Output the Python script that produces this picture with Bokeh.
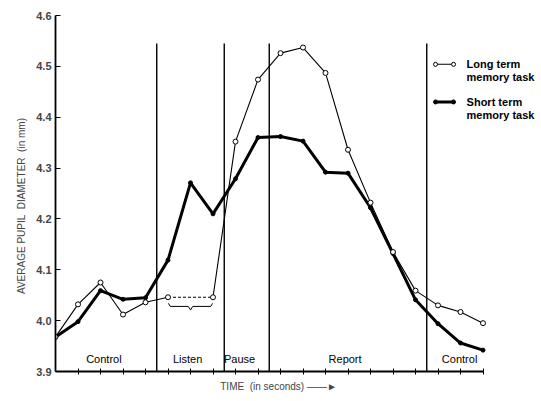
import math
from bokeh.plotting import figure
from bokeh.models import FixedTicker, Range1d, NumeralTickFormatter
from bokeh.core.properties import value
from bokeh.embed import file_html
from bokeh.resources import INLINE

# ---- data ----
time_steps = list(range(20))
long_term = [3.968, 4.032, 4.075, 4.012, 4.036, 4.046, float("nan"), 4.046, 4.352, 4.474,
             4.526, 4.537, 4.487, 4.336, 4.232, 4.135, 4.059, 4.030, 4.017, 3.995]
short_term = [3.968, 3.998, 4.059, 4.042, 4.045, 4.119, 4.271, 4.210, 4.279, 4.360,
              4.362, 4.353, 4.292, 4.290, 4.222, 4.132, 4.041, 3.994, 3.956, 3.942]
phase_bounds = [4.5, 7.5, 9.5, 16.5]
phase_names = ["Control", "Listen", "Pause", "Report", "Control"]
phase_label_x = [2.15, 5.87, 8.18, 12.87, 17.96]
y_ticks = [3.9, 4.0, 4.1, 4.2, 4.3, 4.4, 4.5, 4.6]
legend_names = ["Long term\nmemory task", "Short term\nmemory task"]

FONT = "Liberation Sans"
NB = "\u00a0"

p = figure(frame_width=485, frame_height=356, output_backend="svg",
           toolbar_location=None, min_border_left=55, min_border_right=0,
           min_border_top=15, min_border_bottom=30,
           x_range=Range1d(0, 485 / 22.5), y_range=Range1d(3.9, 4.6))
p.outline_line_color = None
p.grid.grid_line_color = None
p.background_fill_color = "white"

# axes
p.xaxis.bounds = (0, 19)
p.xaxis.ticker = FixedTicker(ticks=list(range(1, 20)))
p.xaxis.major_label_overrides = {i: "" for i in range(1, 20)}
p.xaxis.major_tick_in = 3
p.xaxis.major_tick_out = 3
p.xaxis.minor_tick_line_color = None
p.xaxis.axis_line_width = 1.8
p.xaxis.axis_label = "TIME" + NB * 2 + "(in seconds) \u2014\u2014\u25ba" + NB * 14
p.xaxis.axis_label_text_font = FONT
p.xaxis.axis_label_text_font_style = "normal"
p.xaxis.axis_label_text_font_size = "10px"
p.xaxis.axis_label_standoff = 6

p.yaxis.bounds = (3.9, 4.6)
p.yaxis.ticker = FixedTicker(ticks=y_ticks)
p.yaxis.formatter = NumeralTickFormatter(format="0.0")
p.yaxis.major_tick_in = 5
p.yaxis.major_tick_out = 0
p.yaxis.minor_tick_line_color = None
p.yaxis.axis_line_width = 1.8
p.yaxis.major_label_text_font = FONT
p.yaxis.major_label_text_font_style = "bold"
p.yaxis.major_label_text_font_size = "11px"
p.yaxis.major_label_standoff = 4
p.yaxis.axis_label = "AVERAGE" + NB + "PUPIL" + NB * 2 + "DIAMETER" + NB * 2 + "(in mm)" + NB * 9
p.yaxis.axis_label_text_font = FONT
p.yaxis.axis_label_text_font_style = "normal"
p.yaxis.axis_label_text_font_size = "10px"
p.yaxis.axis_label_standoff = 6

# phase boundaries
line_top = 4.545
for b in phase_bounds:
    p.line([b, b], [3.9, line_top], line_color="black", line_width=1.4)

# phase labels
p.text(x=phase_label_x, y=[3.924] * len(phase_names), text=phase_names,
       text_align="center", text_baseline="middle", text_font=value(FONT),
       text_font_size="11px", text_color="black")

# long term series (solid parts + dashed gap)
lx1 = time_steps[:6]; ly1 = long_term[:6]
lx2 = time_steps[7:]; ly2 = long_term[7:]
p.line(lx1, ly1, line_color="black", line_width=1.1)
p.line(lx2, ly2, line_color="black", line_width=1.1)
p.line([time_steps[5], time_steps[7]], [long_term[5], long_term[7]],
       line_color="black", line_width=1.1, line_dash="3 2")

# short term series
p.line(time_steps, short_term, line_color="black", line_width=3)
p.scatter(time_steps, short_term, size=4, marker="circle", fill_color="black", line_color="black")

lxs = [x for x, y in zip(time_steps, long_term) if not math.isnan(y)]
lys = [y for y in long_term if not math.isnan(y)]
p.scatter(lxs, lys, size=5, marker="circle", fill_color="white", line_color="black", line_width=1)

# brace under the dashed gap
bx0, bx1 = time_steps[5], time_steps[7]
by = long_term[5] - 0.018
bm = (bx0 + bx1) / 2
p.line([bx0 + 0.02, bx0 + 0.1, bm - 0.1, bm, bm + 0.1, bx1 - 0.1, bx1 - 0.02],
       [by + 0.006, by, by, by - 0.007, by, by, by + 0.006],
       line_color="black", line_width=1)

# legend (drawn manually)
leg_x0, leg_x1, leg_tx = 16.89, 17.69, 18.27
leg_y = [4.504, 4.430]
p.line([leg_x0, leg_x1], [leg_y[0]] * 2, line_color="black", line_width=1.1)
p.scatter([leg_x0, leg_x1], [leg_y[0]] * 2, size=4, fill_color="white", line_color="black")
p.line([leg_x0, leg_x1], [leg_y[1]] * 2, line_color="black", line_width=3)
p.scatter([leg_x0, leg_x1], [leg_y[1]] * 2, size=4, fill_color="black", line_color="black")
for name, yy in zip(legend_names, leg_y):
    l1, l2 = name.split("\n")
    p.text(x=[leg_tx, leg_tx], y=[yy, yy - 0.025], text=[l1, l2],
           text_align="left", text_baseline="middle", text_font=value(FONT),
           text_font_size="11px", text_font_style="bold", text_color="black")

open("out.html", "w").write(file_html(p, INLINE))
